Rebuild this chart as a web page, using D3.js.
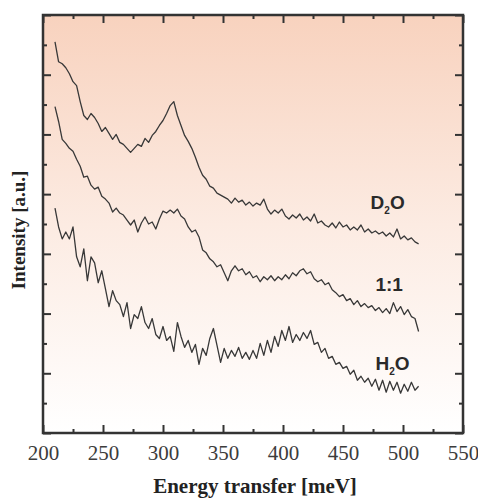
<!DOCTYPE html>
<html>
<head>
<meta charset="utf-8">
<script src="https://cdn.jsdelivr.net/npm/d3@7"></script>
<style>
  body { margin: 0; background: #fff; }
  .axis-title { font-family: "Liberation Serif", "Times New Roman", serif; font-weight: bold; fill: #222; }
  .curve-label { font-family: "Liberation Sans", Arial, sans-serif; font-weight: bold; fill: #2a2a2a; }
  .line { fill: none; stroke: #383838; stroke-width: 1.3; stroke-linejoin: round; }
  .x.axis text { font-family: "Liberation Serif", "Times New Roman", serif; font-size: 21px; fill: #3c3c3c; }
</style>
</head>
<body>
<svg id="chart"></svg>
<script>
// energy grid (meV), shared by the three spectra
let energy = [210,213,216,219,222,225,228,231,234,237,240,243,246,249,252,255,258,261,264,267,
  270,273,276,279,282,285,288,291,294,297,300,303,306,309,312,315,318,321,324,327,
  330,333,336,339,342,345,348,351,354,357,360,363,366,369,372,375,378,381,384,387,
  390,393,396,399,402,405,408,411,414,417,420,423,426,429,432,435,438,441,444,447,
  450,453,456,459,462,465,468,471,474,477,480,483,486,489,492,495,498,501,504,507,
  510,513];

// intensities (a.u., curves offset vertically as in the figure)
let d2o = [393,373,371,367,361,353,349,333,319,315,321,317,311,303,307,301,295,300,292,290,
  286,282,286,290,288,296,292,299,303,309,314,321,329,333,319,309,299,293,286,277,
  267,259,255,248,246,241,239,237,235,231,236,232,234,229,232,228,231,229,235,225,
  220,224,221,225,218,215,219,216,220,214,217,213,220,211,213,209,207,211,206,212,
  207,209,204,207,204,209,202,205,201,203,200,202,198,201,197,205,195,198,194,196,
  192,190];
let mix = [328,313,295,291,286,283,275,268,257,258,249,245,247,238,235,231,222,226,221,219,
  214,209,214,202,211,217,210,212,205,215,223,221,224,221,225,218,215,207,202,204,
  197,184,181,175,172,167,169,161,153,163,168,163,165,159,162,156,158,152,157,154,
  158,153,157,154,159,155,161,158,163,165,160,162,155,152,154,149,151,144,141,137,
  139,133,135,129,133,127,130,126,128,123,126,121,125,120,131,122,127,119,124,117,
  115,102];
let h2o = [226,207,195,202,195,207,177,167,185,153,177,171,151,163,145,127,143,133,129,117,
  131,105,119,115,127,111,105,115,99,95,107,93,97,82,111,97,86,93,81,89,
  69,85,78,95,105,88,71,85,75,83,77,86,75,81,74,83,75,90,78,93,
  81,97,87,103,93,107,91,99,93,101,95,103,89,91,81,85,75,77,69,71,
  65,67,59,63,53,57,51,55,47,54,43,53,41,52,43,51,40,49,42,51,
  43,47];

let xTicks = [200,250,300,350,400,450,500,550];
let yTicks = [0,60,120,180,240,300,360,420];

let series = [
  {name: "D2O", values: d2o, label: ["D","2","O"], at: [473, 225]},
  {name: "1:1", values: mix, label: ["1:1"], at: [477, 143]},
  {name: "H2O", values: h2o, label: ["H","2","O"], at: [477, 63]}
];

let W = 478, H = 498;
let margin = {top: 15, right: 15, bottom: 65, left: 43}
  , width = W - margin.left - margin.right
  , height = H - margin.top - margin.bottom;

let x = d3.scaleLinear().domain([200, 550]).range([0, width]);
let y = d3.scaleLinear().domain([0, 420]).range([height, 0]);

let svg = d3.select("#chart").attr("width", W).attr("height", H);

// peach-to-white fill of the plot area
let grad = svg.append("defs").append("linearGradient")
    .attr("id", "bg").attr("x1", 0).attr("y1", 0).attr("x2", 0).attr("y2", 1);
grad.append("stop").attr("offset", "0%").attr("stop-color", "#f8d2be");
grad.append("stop").attr("offset", "50%").attr("stop-color", "#fcebe2");
grad.append("stop").attr("offset", "100%").attr("stop-color", "#ffffff");

let g = svg.append("g")
    .attr("transform", "translate(" + margin.left + "," + margin.top + ")");

g.append("rect")
    .attr("width", width).attr("height", height)
    .attr("fill", "url(#bg)");

let line = d3.line()
    .x(function(d, i) { return x(energy[i]); })
    .y(function(d) { return y(d); });

series.forEach(function(s) {
  g.append("path")
      .datum(s.values)
      .attr("class", "line")
      .attr("d", line);
});

// curve labels
series.forEach(function(s) {
  let t = g.append("text")
      .attr("class", "curve-label")
      .attr("x", x(s.at[0]))
      .attr("y", y(s.at[1]))
      .style("font-size", "19px");
  if (s.label.length === 1) {
    t.text(s.label[0]);
  } else {
    t.append("tspan").text(s.label[0]);
    t.append("tspan").text(s.label[1]).style("font-size", "10px").attr("dy", 5);
    t.append("tspan").text(s.label[2]).attr("dy", -5);
  }
});

// ticks: all four sides, pointing inward
let minorX = d3.range(225, 550, 50);
let minorY = d3.range(30, 420, 60);

g.append("g")
    .attr("class", "x axis")
    .attr("transform", "translate(0," + height + ")")
    .call(d3.axisBottom(x).tickValues(xTicks).tickSize(-8).tickPadding(12).tickFormat(d3.format("d")))
    .attr("font-family", "Liberation Serif")
    .attr("font-size", 21);
g.append("g").attr("transform", "translate(0," + height + ")")
    .call(d3.axisBottom(x).tickValues(minorX).tickSize(-4).tickFormat(""));
g.append("g").call(d3.axisTop(x).tickValues(xTicks).tickSize(-8).tickFormat(""));
g.append("g").call(d3.axisTop(x).tickValues(minorX).tickSize(-4).tickFormat(""));
g.append("g").call(d3.axisLeft(y).tickValues(yTicks).tickSize(-8).tickFormat(""));
g.append("g").call(d3.axisLeft(y).tickValues(minorY).tickSize(-4).tickFormat(""));
g.append("g").attr("transform", "translate(" + width + ",0)")
    .call(d3.axisRight(y).tickValues(yTicks).tickSize(-8).tickFormat(""));
g.append("g").attr("transform", "translate(" + width + ",0)")
    .call(d3.axisRight(y).tickValues(minorY).tickSize(-4).tickFormat(""));

g.selectAll(".domain").remove();
g.selectAll(".tick line").attr("stroke", "#333").attr("stroke-width", 2);

// frame
g.append("rect")
    .attr("width", width).attr("height", height)
    .attr("fill", "none").attr("stroke", "#333").attr("stroke-width", 2.5);

// axis titles
svg.append("text")
    .attr("class", "axis-title")
    .attr("x", 255)
    .attr("y", H - 5)
    .attr("text-anchor", "middle")
    .style("font-size", "21px")
    .text("Energy transfer [meV]");

svg.append("text")
    .attr("class", "axis-title")
    .attr("transform", "rotate(-90)")
    .attr("x", -230)
    .attr("y", 25)
    .attr("text-anchor", "middle")
    .style("font-size", "19px")
    .text("Intensity [a.u.]");
</script>
</body>
</html>
